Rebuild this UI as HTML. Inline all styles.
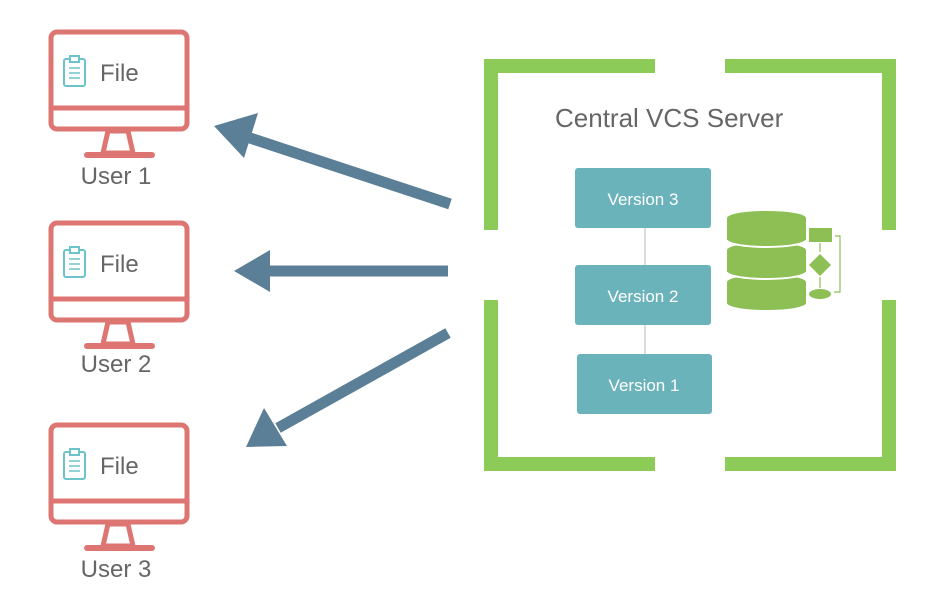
<!DOCTYPE html>
<html><head><style>body{margin:0;background:#fff}svg{display:block}</style></head><body>
<svg width="930" height="592" viewBox="0 0 930 592" xmlns="http://www.w3.org/2000/svg" font-family="Liberation Sans, sans-serif">
<defs>
<g id="mon">
<rect x="51" y="0" width="136" height="97" rx="6" fill="#fff" stroke="#dd7672" stroke-width="5"/>
<line x1="51" y1="76" x2="187" y2="76" stroke="#dd7672" stroke-width="5"/>
<polygon points="108,99 128,99 133,121 103,121" fill="none" stroke="#dd7672" stroke-width="5"/>
<line x1="87" y1="123" x2="152" y2="123" stroke="#dd7672" stroke-width="6" stroke-linecap="round"/>
<rect x="64" y="27" width="21" height="27" rx="2" fill="none" stroke="#6cc3c9" stroke-width="2"/>
<rect x="70" y="24" width="9" height="6" fill="#fff" stroke="#6cc3c9" stroke-width="2"/>
<line x1="69" y1="36" x2="80" y2="36" stroke="#6cc3c9" stroke-width="1.5"/>
<line x1="69" y1="41" x2="80" y2="41" stroke="#6cc3c9" stroke-width="1.5"/>
<line x1="69" y1="46" x2="80" y2="46" stroke="#6cc3c9" stroke-width="1.5"/>
<text x="100" y="49" font-size="24" fill="#666">File</text>
</g>
</defs>
<use href="#mon" y="32"/>
<text x="116" y="184" font-size="24" fill="#666" text-anchor="middle">User 1</text>
<use href="#mon" y="223"/>
<text x="116" y="372" font-size="24" fill="#666" text-anchor="middle">User 2</text>
<use href="#mon" y="425"/>
<text x="116" y="577" font-size="24" fill="#666" text-anchor="middle">User 3</text>

<g stroke="#8ccb58" stroke-width="14" fill="none">
<polyline points="491,230 491,66 655,66"/>
<polyline points="725,66 889,66 889,230"/>
<polyline points="491,300 491,464 655,464"/>
<polyline points="725,464 889,464 889,300"/>
</g>
<text x="555" y="127" font-size="26" fill="#666">Central VCS Server</text>

<line x1="645" y1="228" x2="645" y2="355" stroke="#ddd" stroke-width="2"/>
<rect x="575" y="168" width="136" height="60" rx="3" fill="#6bb3bb"/>
<rect x="575" y="265" width="136" height="60" rx="3" fill="#6bb3bb"/>
<rect x="577" y="354" width="135" height="60" rx="3" fill="#6bb3bb"/>
<text x="643" y="205" font-size="17" fill="#fff" text-anchor="middle">Version 3</text>
<text x="643" y="302" font-size="17" fill="#fff" text-anchor="middle">Version 2</text>
<text x="644" y="391" font-size="17" fill="#fff" text-anchor="middle">Version 1</text>

<g fill="#8dbf55">
<rect x="727" y="218" width="79" height="22"/><ellipse cx="766.5" cy="218" rx="39.5" ry="7"/><ellipse cx="766.5" cy="240" rx="39.5" ry="7"/>
<rect x="727" y="250" width="79" height="22"/><ellipse cx="766.5" cy="250" rx="39.5" ry="7"/><ellipse cx="766.5" cy="272" rx="39.5" ry="7"/>
<rect x="727" y="282" width="79" height="21"/><ellipse cx="766.5" cy="282" rx="39.5" ry="7"/><ellipse cx="766.5" cy="303" rx="39.5" ry="7"/>
</g>
<g stroke="#fff" stroke-width="2" fill="none">
<path d="M727,240 A39.5,7 0 0 0 806,240"/><path d="M727,272 A39.5,7 0 0 0 806,272"/>
</g>
<g fill="#8dbf55">
<rect x="809" y="228" width="23" height="14"/>
<polygon points="820,254 831,265 820,276 809,265"/>
<ellipse cx="820" cy="294" rx="11" ry="5"/>
</g>
<g stroke="#8dbf55" stroke-width="1.2" fill="none">
<line x1="820" y1="243" x2="820" y2="252"/><line x1="820" y1="277" x2="820" y2="288"/>
<polyline points="835,236 840,236 840,292 834,292"/>
</g>

<g fill="#5a7f96">
<line x1="450" y1="204" x2="250" y2="138" stroke="#5a7f96" stroke-width="11"/>
<polygon points="214,126 258,113 244,158"/>
<line x1="448" y1="271" x2="270" y2="271" stroke="#5a7f96" stroke-width="11"/>
<polygon points="234,271 270,250 270,292"/>
<line x1="448" y1="333" x2="278" y2="428" stroke="#5a7f96" stroke-width="11"/>
<polygon points="246,447 264,408 287,446"/>
</g>
</svg>
</body></html>
